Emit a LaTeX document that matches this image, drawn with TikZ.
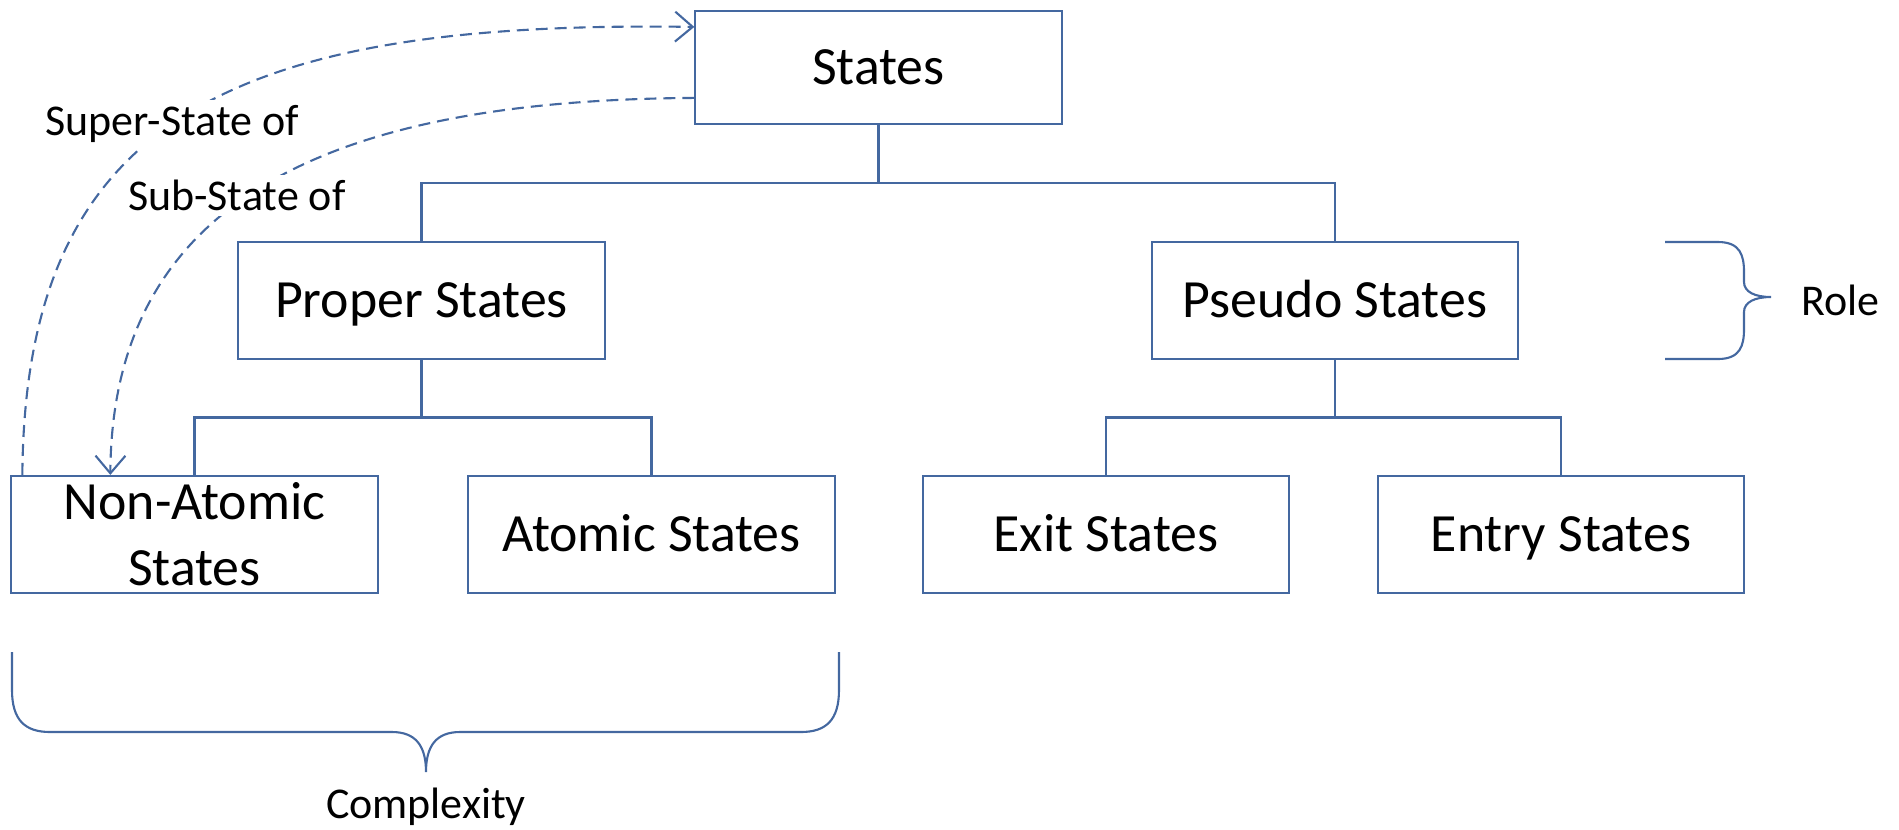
\documentclass[tikz,border=0pt]{standalone}
\usepackage{fontspec}
\setmainfont{Carlito}
\usetikzlibrary{arrows.meta,calc}
\definecolor{lc}{RGB}{68,104,160}
\begin{document}
\begin{tikzpicture}[x=0.01cm,y=-0.01cm,
  box/.style={draw=lc,line width=0.6pt,minimum width=3.66cm,minimum height=1.17cm,inner sep=0pt,
    font=\fontsize{15.3}{18.8}\selectfont},
  one/.style={text height=9.67pt,text depth=0pt},
  tree/.style={draw=lc,line width=0.6pt},
  brace/.style={draw=lc,line width=0.6pt},
  rel/.style={draw=lc,line width=0.6pt,dash pattern=on 3.4pt off 2pt,
    -{Straight Barb[length=5pt,width=8.5pt,line width=0.6pt]}},
  lab/.style={font=\fontsize{12.5}{15}\selectfont,inner sep=1.5pt},
  capc/.style={text height=7.9pt,text depth=0pt,inner sep=0pt}]
\useasboundingbox (0,0) rectangle (1899,829);

\node[box,one,minimum height=1.13cm] (states) at (878.5,67.5) {States};
\node[box,one] (proper) at (421.5,300.5) {Proper States};
\node[box,one] (pseudo) at (1335,300.5) {Pseudo States};
\node[box,align=center] (nonatomic) at (194.5,534.5) {Non-Atomic\\States};
\node[box,one] (atomic) at (651.5,534.5) {Atomic States};
\node[box,one] (exit) at (1106,534.5) {Exit States};
\node[box,one] (entry) at (1561,534.5) {Entry States};

\coordinate (j1) at (878.5,183);
\coordinate (j2) at (421.5,417.5);
\coordinate (j3) at (1335,417.5);
\draw[tree] (states.south) -- (j1);
\draw[tree] (proper.north) |- (j1) -| (pseudo.north);
\draw[tree] (proper.south) -- (j2);
\draw[tree] (nonatomic.north) |- (j2) -| (atomic.north);
\draw[tree] (pseudo.south) -- (j3);
\draw[tree] (exit.north) |- (j3) -| (entry.north);

\coordinate (supS) at ($(nonatomic.north west)+(12,0)$);
\coordinate (supE) at ($(states.north west)+(0,17)$);
\draw[rel] (supS) .. controls (25,120) and (230,20) .. (supE)
  node[pos=0.48,lab,fill=white] {Super-State of};

\coordinate (subS) at ($(states.north west)+(0,88)$);
\coordinate (subE) at ($(nonatomic.north west)+(100,0)$);
\draw[rel] (subS) .. controls (330,100) and (112,200) .. (subE)
  node[pos=0.53,lab,fill=white,xshift=-0.12cm] {Sub-State of};

% Role brace
\draw[brace] (1665,242) -- (1718,242) .. controls (1740,242) and (1744,255) .. (1744,272)
  -- (1744,282) .. controls (1744,292) and (1755,297) .. (1771,297)
  .. controls (1755,297) and (1744,302) .. (1744,312)
  -- (1744,329) .. controls (1744,346) and (1740,359) .. (1718,359) -- (1665,359);
\node[lab,capc,anchor=west] (role) at (1801,302) {Role};

% Complexity brace
\draw[brace] (12,652) -- (12,690) .. controls (12,720) and (25,732) .. (50,732)
  -- (392,732) .. controls (415,732) and (426,745) .. (426,772)
  .. controls (426,745) and (437,732) .. (460,732)
  -- (801,732) .. controls (826,732) and (839,720) .. (839,690) -- (839,652);
\node[lab,capc] (complexity) at (426,805) {Complexity};
\end{tikzpicture}
\end{document}
